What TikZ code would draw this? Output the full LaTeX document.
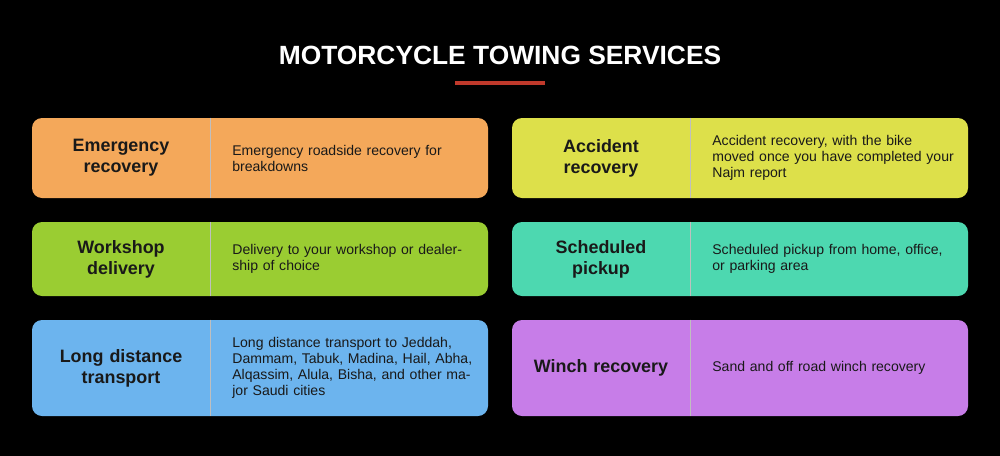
\documentclass[tikz,border=0pt]{standalone}
\usepackage{fontspec}
\setmainfont{Liberation Sans}
\usetikzlibrary{positioning}
\definecolor{cOrange}{HTML}{F4A85A}
\definecolor{cYellow}{HTML}{DDE04A}
\definecolor{cGreen}{HTML}{9ACD32}
\definecolor{cTeal}{HTML}{4DD8B0}
\definecolor{cBlue}{HTML}{6CB4EE}
\definecolor{cPurple}{HTML}{C77DE8}
\definecolor{cRed}{HTML}{C0392B}
\begin{document}
\begin{tikzpicture}[
    card/.style={rectangle, rounded corners=0.2cm, minimum width=9.12cm, inner sep=0pt},
    label/.style={text width=3.3cm, align=center, inner sep=0pt, font=\fontsize{10.2}{11.9}\selectfont\bfseries, text=black!90},
    desc/.style={anchor=west, text width=4.9cm, align=left, inner sep=0pt, font=\fontsize{8}{9.1}\selectfont, text=black!90},
    divider/.style={black!25, line width=0.4pt}
]
\fill[black] (0,0) rectangle (20,-9.12);
\useasboundingbox (0,0) rectangle (20,-9.12);

% Titre
\node[text=white, font=\fontsize{15}{18}\selectfont\bfseries] (title) at (10,-1.1) {MOTORCYCLE TOWING SERVICES};
\draw[cRed, line width=2pt] (9.1,-1.66) coordinate (ruleA) -- (10.9,-1.66) coordinate (ruleB);

% Cartes (gauche)
\node[card, fill=cOrange, minimum height=1.6cm] (emerg) at (5.2,-3.16) {};
\node[card, fill=cGreen, minimum height=1.48cm] (workshop) at (5.2,-5.18) {};
\node[card, fill=cBlue, minimum height=1.92cm] (longdist) at (5.2,-7.36) {};

% Cartes (droite)
\node[card, fill=cYellow, minimum height=1.6cm] (accident) at (14.8,-3.16) {};
\node[card, fill=cTeal, minimum height=1.48cm] (pickup) at (14.8,-5.18) {};
\node[card, fill=cPurple, minimum height=1.92cm] (winch) at (14.8,-7.36) {};

% Separateurs
\foreach \c in {emerg,workshop,longdist,accident,pickup,winch}
  \draw[divider] ([xshift=3.58cm]\c.north west) -- ([xshift=3.58cm]\c.south west);

% Titres des cartes
\node[label] (emergL) at (2.42,-3.16) {Emergency\\recovery};
\node[label] (workshopL) at (2.42,-5.18) {Workshop\\delivery};
\node[label] (longdistL) at (2.42,-7.36) {Long distance\\transport};
\node[label] (accidentL) at (12.02,-3.16) {Accident\\recovery};
\node[label] (pickupL) at (12.02,-5.18) {Scheduled\\pickup};
\node[label] (winchL) at (12.02,-7.36) {Winch recovery};

% Descriptions
\node[desc] (emergD) at (4.64,-3.16) {Emergency roadside recovery for breakdowns};
\node[desc] (workshopD) at (4.64,-5.18) {Delivery to your workshop or dealership of choice};
\node[desc] (longdistD) at (4.64,-7.36) {Long distance transport to Jeddah, Dammam, Tabuk, Madina, Hail, Abha, Alqassim, Alula, Bisha, and other major Saudi cities};
\node[desc] (accidentD) at (14.24,-3.16) {Accident recovery, with the bike moved once you have completed your Najm report};
\node[desc] (pickupD) at (14.24,-5.18) {Scheduled pickup from home, office, or parking area};
\node[desc] (winchD) at (14.24,-7.36) {Sand and off road winch recovery};
\end{tikzpicture}
\end{document}
